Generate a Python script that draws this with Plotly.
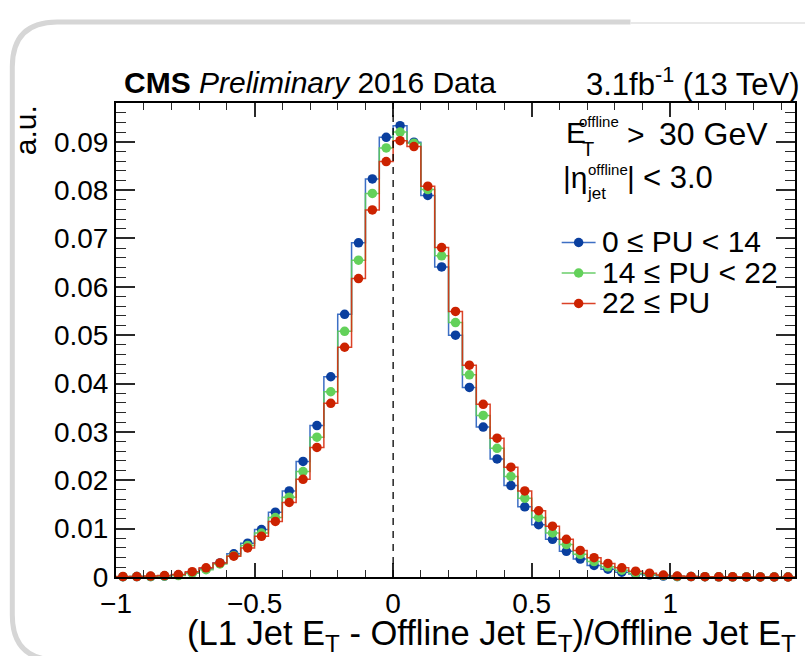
import numpy as np
import plotly.graph_objects as go

# Histogram binning: 49 bins of width 0.05 from -1 to 1.45
bin_edges = np.round(np.arange(-1.0, 1.4501, 0.05), 3)
bin_centers = 0.5 * (bin_edges[:-1] + bin_edges[1:])

# Normalised response distributions (a.u.) per pile-up range
pu_low = [0.00005, 0.0001, 0.0001, 0.0002, 0.0004, 0.0009, 0.0017, 0.0029, 0.0048, 0.0070,
          0.0098, 0.0134, 0.0178, 0.0239, 0.0313, 0.0414, 0.0543, 0.0691, 0.0823, 0.0909,
          0.0933, 0.0899, 0.0789, 0.0641, 0.0500, 0.0392, 0.0310, 0.0244, 0.0189, 0.0145,
          0.0108, 0.0078, 0.0053, 0.0037, 0.0024, 0.0016, 0.0010, 0.0006, 0.0004, 0.0002,
          0.0001, 0.0001, 0.00005, 0.00003, 0.00002, 0.00001, 0.00001, 0.0, 0.0]
pu_mid = [0.00005, 0.0001, 0.0001, 0.0002, 0.0003, 0.0008, 0.0015, 0.0027, 0.0044, 0.0065,
          0.0091, 0.0123, 0.0165, 0.0218, 0.0289, 0.0383, 0.0508, 0.0655, 0.0793, 0.0887,
          0.0920, 0.0897, 0.0801, 0.0664, 0.0526, 0.0418, 0.0334, 0.0266, 0.0208, 0.0163,
          0.0123, 0.0091, 0.0067, 0.0047, 0.0032, 0.0021, 0.0014, 0.0008, 0.0005, 0.0003,
          0.0001, 0.0001, 0.00005, 0.00003, 0.00002, 0.00001, 0.00001, 0.0, 0.0]
pu_high = [0.0001, 0.0001, 0.0002, 0.0003, 0.0005, 0.0011, 0.0019, 0.0029, 0.0043, 0.0060,
           0.0084, 0.0115, 0.0154, 0.0202, 0.0268, 0.0359, 0.0475, 0.0617, 0.0759, 0.0859,
           0.0902, 0.0890, 0.0808, 0.0681, 0.0549, 0.0438, 0.0357, 0.0287, 0.0227, 0.0178,
           0.0137, 0.0105, 0.0078, 0.0055, 0.0040, 0.0028, 0.0019, 0.0012, 0.0008, 0.0004,
           0.0002, 0.0001, 0.00006, 0.00004, 0.00003, 0.00002, 0.00001, 0.00001, 0.0]

series = [
    ("0 ≤ PU < 14", pu_low, "#0a3f9f", "rgba(40,95,190,0.9)"),
    ("14 ≤ PU < 22", pu_mid, "#63d15a", "rgba(90,200,90,0.9)"),
    ("22 ≤ PU", pu_high, "#cc2200", "rgba(215,45,15,0.9)"),
]

FONT = "Liberation Sans, Arial, Helvetica, sans-serif"
W, H = 807, 656
ML, MR, MT, MB = 116, 10, 103, 79
PW, PH = W - ML - MR, H - MT - MB


def px(x):
    return (x - ML) / PW


def py(y):
    return (H - MB - y) / PH


fig = go.Figure()
for name, vals, mcol, lcol in series:
    fig.add_trace(go.Scatter(
        x=bin_edges, y=list(vals) + [vals[-1]], mode="lines",
        line=dict(shape="hv", color=lcol, width=1.5),
        showlegend=False, hoverinfo="skip"))
    fig.add_trace(go.Scatter(
        x=bin_centers, y=vals, mode="markers", name=name,
        marker=dict(size=9.5, color=mcol, line=dict(width=0)),
        cliponaxis=False, showlegend=False))

shapes = []
# dashed reference line at zero response
shapes.append(dict(type="line", xref="x", yref="paper", x0=0, x1=0, y0=0, y1=1,
                   line=dict(color="black", width=1.3, dash="7px,6px"), layer="above"))

# rounded slide frame
frame_path = (f"M {px(57)},{py(660)} Q {px(12)},{py(660)} {px(12)},{py(615)} "
              f"L {px(12)},{py(67)} Q {px(12)},{py(22)} {px(57)},{py(22)} L {px(632)},{py(22)}")
shapes.append(dict(type="path", xref="paper", yref="paper", path=frame_path,
                   line=dict(color="#d6d6d6", width=5), layer="below"))
shapes.append(dict(type="line", xref="paper", yref="paper", x0=px(632), x1=px(807),
                   y0=py(23), y1=py(23), line=dict(color="#e8e8e8", width=2), layer="below"))

annotations = []


def label(text, x, y, size, xanchor="left", **kw):
    annotations.append(dict(text=text, xref="paper", yref="paper", x=px(x), y=py(y),
                            xanchor=xanchor, yanchor="middle", showarrow=False,
                            font=dict(size=size, family=FONT, color="black"), **kw))


# legend entries (line + marker + label)
legend_rows = [242.5, 273, 303.5]
for (name, vals, mcol, lcol), ry in zip(series, legend_rows):
    shapes.append(dict(type="line", xref="paper", yref="paper", x0=px(563), x1=px(597),
                       y0=py(ry), y1=py(ry), line=dict(color=lcol, width=1.5)))
    shapes.append(dict(type="circle", xref="paper", yref="paper", xsizemode="pixel",
                       ysizemode="pixel", xanchor=px(580), yanchor=py(ry),
                       x0=-4.75, x1=4.75, y0=-4.75, y1=4.75,
                       fillcolor=mcol, line=dict(width=0)))
    label(name, 601, ry - 1, 30)

# header
label("<b>CMS</b> <i>Preliminary</i> 2016 Data", 122, 82, 30)
label("3.1fb<sup>-1</sup> (13 TeV)", 803, 82, 31, xanchor="right")

# selection cuts
label("E", 565, 132, 30)
label("offline", 578, 122, 15)
label("T", 581, 149, 20)
label(">", 626, 134, 30)
label("30 GeV", 659, 134, 32)
label("|η", 562, 177, 30)
label("offline", 587, 169, 15)
label("jet", 586, 193, 17)
label("|", 626, 177, 30)
label("< 3.0", 643, 177, 31)

# axis titles
label("a.u.", 25, 130, 30, xanchor="center", textangle=-90)
label("(L1 Jet E<sub>T</sub> - Offline Jet E<sub>T</sub>)/Offline Jet E<sub>T</sub>",
      800, 635, 34.5, xanchor="right")

tick_col = "#2a2a2a"
fig.update_layout(
    width=W, height=H, margin=dict(l=ML, r=MR, t=MT, b=MB),
    paper_bgcolor="white", plot_bgcolor="white",
    showlegend=False, shapes=shapes, annotations=annotations,
    font=dict(family=FONT, color="black"),
    xaxis=dict(range=[-1.0, 1.45], tick0=0, dtick=0.5, ticks="inside", ticklen=14,
               tickwidth=1.5, tickcolor=tick_col, showline=True, linecolor="black",
               linewidth=2, mirror="allticks", showgrid=False, zeroline=False,
               tickfont=dict(size=28, family=FONT, color="black"),
               minor=dict(tick0=0, dtick=0.1, ticks="inside", ticklen=7, tickwidth=1.2,
                          tickcolor=tick_col, showgrid=False)),
    yaxis=dict(range=[0, 0.098], tick0=0, dtick=0.01, ticks="inside", ticklen=19,
               tickwidth=1.5, tickcolor=tick_col, showline=True, linecolor="black",
               linewidth=2, mirror="allticks", showgrid=False, zeroline=False,
               tickfont=dict(size=28, family=FONT, color="black"),
               minor=dict(tick0=0, dtick=0.002, ticks="inside", ticklen=10, tickwidth=1.2,
                          tickcolor=tick_col, showgrid=False)),
)

fig.write_html("out.html")
